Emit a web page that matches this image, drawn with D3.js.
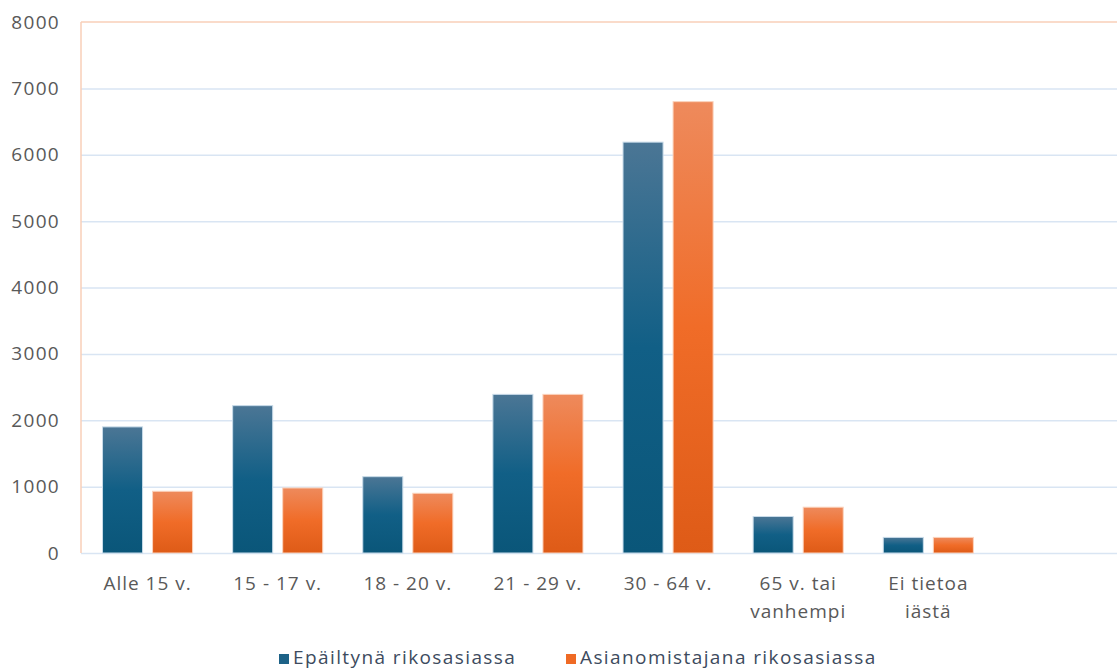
<!DOCTYPE html>
<html>
<head>
<meta charset="utf-8">
<script src="https://cdn.jsdelivr.net/npm/d3@7"></script>
<style>
  html, body { margin: 0; padding: 0; background: #fff; }
  svg { display: block; }
</style>
</head>
<body>
<div id="chart"></div>
<script>
// categories (last one is an empty slot, as in the original chart)
var categories = ["Alle 15 v.", "15 - 17 v.", "18 - 20 v.", "21 - 29 v.", "30 - 64 v.", "65 v. tai|vanhempi", "Ei tietoa|iästä", ""];
var series_names = ["Epäiltynä rikosasiassa", "Asianomistajana rikosasiassa"];
var suspected = [1900, 2220, 1150, 2390, 6190, 550, 235, null];
var victim    = [930, 980, 900, 2390, 6800, 690, 235, null];
var y_ticks = [0, 1000, 2000, 3000, 4000, 5000, 6000, 7000, 8000];

var width = 1117, height = 670;
var margin = {top: 22, right: -8, bottom: 117, left: 81};
var inner_width = width - margin.left - margin.right;
var inner_height = height - margin.top - margin.bottom;

var font = "'Open Sans', sans-serif";

var svg = d3.select("#chart").append("svg")
    .attr("width", width)
    .attr("height", height);

//Gradients, one per series
var defs = svg.append("defs");
var grads = [
    {id: "g_blue",   stops: ["#4b7695", "#115f86", "#0a5679"]},
    {id: "g_orange", stops: ["#ee8a5c", "#f06c28", "#de5b17"]}
];
grads.forEach(function(g) {
    var lg = defs.append("linearGradient")
        .attr("id", g.id)
        .attr("x1", 0).attr("y1", 0).attr("x2", 0).attr("y2", 1);
    lg.append("stop").attr("offset", "0%").attr("stop-color", g.stops[0]);
    lg.append("stop").attr("offset", "50%").attr("stop-color", g.stops[1]);
    lg.append("stop").attr("offset", "100%").attr("stop-color", g.stops[2]);
});
var fills = ["url(#g_blue)", "url(#g_orange)"];
var strokes = ["#c8dbe9", "#fbd3bd"];
var legend_colors = ["#1d6287", "#ef6a25"];

var g = svg.append("g")
    .attr("transform", "translate(" + margin.left + "," + margin.top + ")");

//Scales
var x0 = d3.scaleBand()
    .domain(d3.range(categories.length))
    .range([0, inner_width])
    .paddingInner(40/130)
    .paddingOuter(21.5/130);

var x1 = d3.scaleBand()
    .domain([0, 1])
    .range([0, x0.bandwidth()])
    .paddingInner(0.2);

var y = d3.scaleLinear()
    .domain([0, 8000])
    .range([inner_height, 0]);

//Gridlines
g.append("g").selectAll("line")
    .data(y_ticks.slice(0, -1))
    .join("line")
    .attr("x1", 0)
    .attr("x2", inner_width)
    .attr("y1", function(d) { return y(d) + 0.5; })
    .attr("y2", function(d) { return y(d) + 0.5; })
    .attr("stroke", "#d9e5f3")
    .attr("stroke-width", 1.5);

//Plot border (top and left)
g.append("line")
    .attr("x1", 0).attr("x2", inner_width)
    .attr("y1", y(8000)).attr("y2", y(8000))
    .attr("stroke", "#f8cfb9").attr("stroke-width", 1.5);
g.append("line")
    .attr("x1", 0).attr("x2", 0)
    .attr("y1", y(8000)).attr("y2", y(0))
    .attr("stroke", "#f8cfb9").attr("stroke-width", 1.5);

//Y axis labels
var y_axis = d3.axisLeft(y)
    .tickValues(y_ticks)
    .tickSize(0)
    .tickPadding(21)
    .tickFormat(function(d) { return d; });

var ya = g.append("g").call(y_axis);
ya.select(".domain").remove();
ya.selectAll("text")
    .attr("fill", "#595959")
    .style("font-family", font)
    .style("font-size", "19px")
    .style("letter-spacing", "1.3px");

//Bars
var data = [suspected, victim];
data.forEach(function(values, s) {
    g.append("g").selectAll("rect")
        .data(values)
        .join("rect")
        .filter(function(d) { return d !== null; })
        .attr("x", function(d, i) { return x0(i) + x1(s); })
        .attr("y", function(d) { return y(d); })
        .attr("width", x1.bandwidth())
        .attr("height", function(d) { return y(0) - y(d); })
        .attr("fill", fills[s])
        .attr("stroke", strokes[s])
        .attr("stroke-width", 1);
});

//X axis labels (multi line)
var xl = g.append("g").selectAll("text")
    .data(categories)
    .join("text")
    .attr("x", function(d, i) { return x0(i) + x0.bandwidth() / 2; })
    .attr("y", inner_height + 37)
    .attr("text-anchor", "middle")
    .attr("fill", "#595959")
    .style("font-family", font)
    .style("font-size", "19px")
    .style("letter-spacing", "1px");

xl.selectAll("tspan")
    .data(function(d) { return d.split("|"); })
    .join("tspan")
    .attr("x", function() { return d3.select(this.parentNode).attr("x"); })
    .attr("dy", function(d, i) { return i === 0 ? 0 : 28; })
    .text(function(d) { return d; });

//Legend
var legend_x = [279, 566];
var legend = svg.append("g");
series_names.forEach(function(name, s) {
    legend.append("rect")
        .attr("x", legend_x[s])
        .attr("y", 654)
        .attr("width", 10)
        .attr("height", 10)
        .attr("fill", legend_colors[s]);
    legend.append("text")
        .attr("x", legend_x[s] + 14)
        .attr("y", 664)
        .attr("fill", "#3d4b5e")
        .style("font-family", font)
        .style("font-size", "19px")
        .style("letter-spacing", "1.4px")
        .text(name);
});
</script>
</body>
</html>
